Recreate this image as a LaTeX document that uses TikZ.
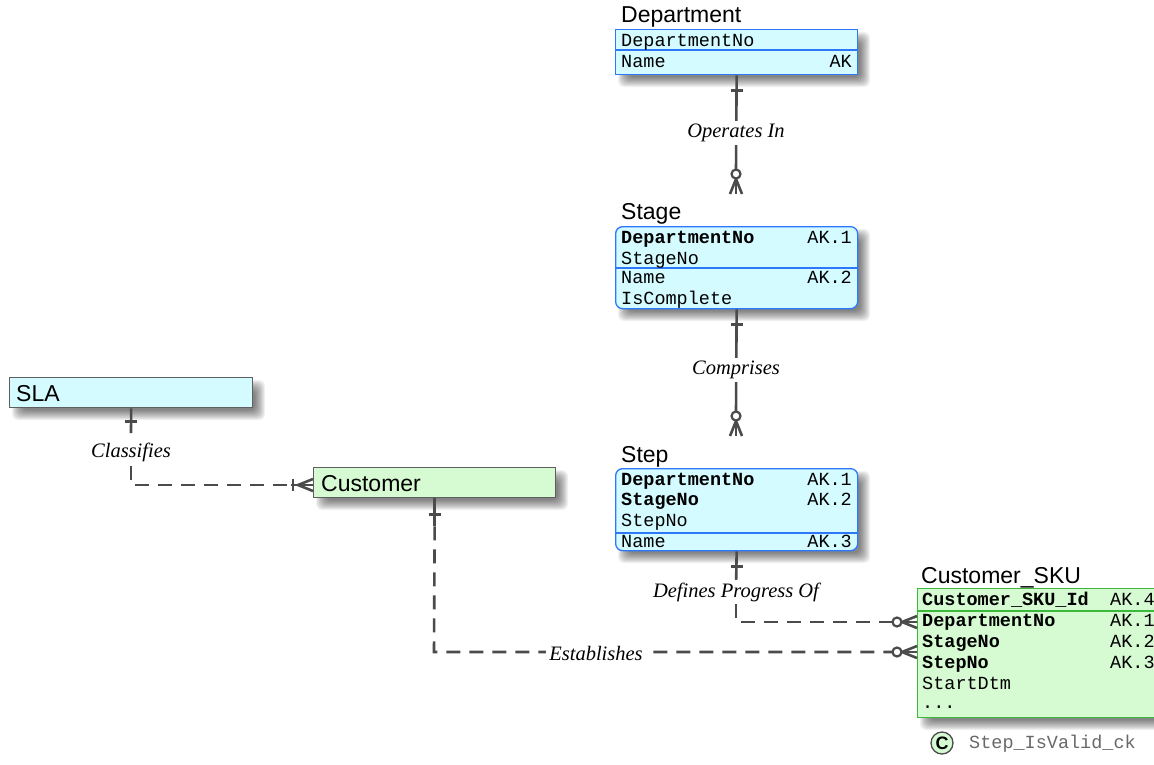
\documentclass[tikz,border=0pt]{standalone}
\usepackage{fontspec}
\setmainfont{Liberation Serif}
\setsansfont{Liberation Sans}
\setmonofont{Liberation Mono}
\usetikzlibrary{calc}
\definecolor{entcyan}{RGB}{212,251,255}
\definecolor{entgreen}{RGB}{214,250,210}
\definecolor{entblue}{RGB}{45,120,250}
\definecolor{entgreenline}{RGB}{60,185,60}
\definecolor{relgray}{RGB}{75,75,75}
\definecolor{boxgray}{RGB}{95,95,95}
\definecolor{cktext}{RGB}{105,105,105}
\newcommand\eshadow[4]{%
  \foreach \e in {-5,...,5}{\fill[black,opacity=0.055,rounded corners=6pt] ({#1+8-\e},{#2+8-\e}) rectangle ({#3+8+\e},{#4+8+\e});}}
\newcommand\tickV[1]{\draw[rel] ($(#1)+(-6,0)$) -- ($(#1)+(6,0)$);}
\newcommand\zmDown[1]{%
  \draw[rel] ($(#1)+(0,-15.5)$) -- (#1);
  \draw[rel] ($(#1)+(-6,0)$) -- ($(#1)+(0,-15)$) -- ($(#1)+(6,0)$);
  \draw[rel,fill=white,line width=2.2pt] ($(#1)+(0,-20)$) circle (4.5);}
\newcommand\zmRight[1]{%
  \draw[rel] ($(#1)+(-15.5,0)$) -- (#1);
  \draw[rel] ($(#1)+(0,-6)$) -- ($(#1)+(-15,0)$) -- ($(#1)+(0,6)$);
  \draw[rel,fill=white,line width=2.2pt] ($(#1)+(-20,0)$) circle (4.5);}
\newcommand\omRight[1]{%
  \draw[rel] ($(#1)+(-22,0)$) -- (#1);
  \draw[rel] ($(#1)+(0,-6)$) -- ($(#1)+(-15,0)$) -- ($(#1)+(0,6)$);
  \draw[rel] ($(#1)+(-20,-6)$) -- ($(#1)+(-20,6)$);}
\tikzset{
  entbox/.style={anchor=north west, inner sep=0pt, line width=1.3pt},
  ttl/.style={anchor=base west, inner sep=0pt, font=\sffamily\fontsize{23}{26}\selectfont},
  fld/.style={anchor=base west, inner sep=0pt, font=\ttfamily\fontsize{18.5}{20}\selectfont},
  fldb/.style={anchor=base west, inner sep=0pt, font=\ttfamily\bfseries\fontsize{18.5}{20}\selectfont},
  akr/.style={anchor=base east, inner sep=0pt, font=\ttfamily\fontsize{18.5}{20}\selectfont},
  akl/.style={anchor=base west, inner sep=0pt, font=\ttfamily\fontsize{18.5}{20}\selectfont},
  lab/.style={fill=white, inner sep=3pt, font=\itshape\fontsize{20.5}{24}\selectfont},
  rel/.style={draw=relgray, line width=2.6pt},
  reldash/.style={rel, dash pattern=on 14pt off 9pt},
  divb/.style={draw=entblue, line width=1.1pt},
  divg/.style={draw=entgreenline, line width=1.1pt},
}
\begin{document}
\begin{tikzpicture}[x=1pt,y=-1pt]
\useasboundingbox (0,0) rectangle (1154,764);
\fill[white] (0,0) rectangle (1154,764);

% shadows
\eshadow{615}{29}{857}{74}
\eshadow{615}{226}{857}{308}
\eshadow{615}{468}{857}{550}
\eshadow{917}{588}{1170}{717}
\eshadow{9}{377}{252}{407}
\eshadow{313}{467}{555}{497}

% ---------- Department ----------
\node[ttl] (deptT) at (621,22) {Department};
\node[entbox, fill=entcyan, draw=entblue, minimum width=242pt, minimum height=45pt] (dept) at (615,29) {};
\draw[divb] (615,50) -- (857,50);
\node[fld] (d1) at (621,46) {DepartmentNo};
\node[fld] (d2) at (621,67) {Name};
\node[akr] (d2k) at (852,67) {AK};

% ---------- Stage ----------
\node[ttl] (stageT) at (621,219) {Stage};
\node[entbox, fill=entcyan, draw=entblue, rounded corners=7pt, minimum width=242pt, minimum height=82pt] (stage) at (615,226) {};
\draw[divb] (615,268) -- (857,268);
\node[fldb] (s1) at (621,243) {DepartmentNo};
\node[akr] (s1k) at (852,243) {AK.1};
\node[fld] (s2) at (621,264) {StageNo};
\node[fld] (s3) at (621,283) {Name};
\node[akr] (s3k) at (852,283) {AK.2};
\node[fld] (s4) at (621,304) {IsComplete};

% ---------- Step ----------
\node[ttl] (stepT) at (621,462) {Step};
\node[entbox, fill=entcyan, draw=entblue, rounded corners=7pt, minimum width=242pt, minimum height=82pt] (step) at (615,468) {};
\draw[divb] (615,533) -- (857,533);
\node[fldb] (t1) at (621,485) {DepartmentNo};
\node[akr] (t1k) at (852,485) {AK.1};
\node[fldb] (t2) at (621,505) {StageNo};
\node[akr] (t2k) at (852,505) {AK.2};
\node[fld] (t3) at (621,526) {StepNo};
\node[fld] (t4) at (621,547) {Name};
\node[akr] (t4k) at (852,547) {AK.3};

% ---------- Customer_SKU ----------
\node[ttl] (skuT) at (921,583) {Customer\_SKU};
\node[entbox, fill=entgreen, draw=entgreenline, minimum width=253pt, minimum height=129pt] (sku) at (917,588) {};
\draw[divg] (917,611) -- (1170,611);
\node[fldb] (k1) at (922,605) {Customer\_SKU\_Id};
\node[akl] (k1k) at (1110,605) {AK.4};
\node[fldb] (k2) at (922,626) {DepartmentNo};
\node[akl] (k2k) at (1110,626) {AK.1};
\node[fldb] (k3) at (922,647) {StageNo};
\node[akl] (k3k) at (1110,647) {AK.2};
\node[fldb] (k4) at (922,668) {StepNo};
\node[akl] (k4k) at (1110,668) {AK.3};
\node[fld] (k5) at (922,689) {StartDtm};
\node[fld] (k6) at (922,708) {...};

% constraint
\node[circle, draw=relgray, line width=1.3pt, fill=entgreen, minimum size=22pt, inner sep=0pt, font=\sffamily\bfseries\fontsize{18}{18}\selectfont] (ck) at (942,743) {C};
\node[anchor=west, inner sep=0pt, text=cktext, font=\ttfamily\fontsize{18.5}{20}\selectfont] (ckT) at (969,744) {Step\_IsValid\_ck};

% ---------- SLA ----------
\node[entbox, fill=entcyan, draw=boxgray, minimum width=243pt, minimum height=30pt] (sla) at (9,377) {};
\node[ttl] (slaT) at (16,401) {SLA};

% ---------- Customer ----------
\node[entbox, fill=entgreen, draw=boxgray, minimum width=242pt, minimum height=30pt] (cust) at (313,467) {};
\node[ttl] (custT) at (321,491) {Customer};

% ---------- relationships ----------
\coordinate (opEnd) at (736,194);
\coordinate (coEnd) at (736,436);
\coordinate (slaEnd) at (313,485);
\coordinate (skuA) at (917,622);
\coordinate (skuB) at (917,652);
\coordinate (slaCorner) at (131,485);
\coordinate (custCorner) at (434,652);
\coordinate (stepCorner) at (736,622);

% Operates In
\draw[rel] (dept.south) -- ($(opEnd)+(0,-24)$);
\node[lab] (opL) at (736,133) {Operates In};
\tickV{$(dept.south)+(0,15)$}
\zmDown{opEnd}

% Comprises
\draw[rel] (stage.south) -- ($(coEnd)+(0,-24)$);
\node[lab] (coL) at (736,370) {Comprises};
\tickV{$(stage.south)+(0,15)$}
\zmDown{coEnd}

% Classifies
\draw[reldash] (131,466) -- (slaCorner) -- ($(slaEnd)+(-22,0)$);
\draw[rel] (sla.south) -- (131,433);
\node[lab] (clL) at (131,452) {Classifies};
\tickV{$(sla.south)+(0,13)$}
\omRight{slaEnd}

% Establishes
\draw[rel] (cust.south) -- ($(cust.south)+(0,28)$);
\draw[reldash] ($(cust.south)+(0,28)$) -- (custCorner) -- ($(skuB)+(-24.5,0)$);
\node[lab] (esL) at (596,653) {Establishes};
\tickV{$(cust.south)+(0,16)$}
\zmRight{skuB}

% Defines Progress Of
\draw[rel] (step.south) -- (736,590);
\draw[reldash] (736,604) -- (stepCorner) -- ($(skuA)+(-24.5,0)$);
\node[lab] (dpL) at (736,592) {Defines Progress Of};
\tickV{$(step.south)+(0,15)$}
\zmRight{skuA}
\end{tikzpicture}
\end{document}
